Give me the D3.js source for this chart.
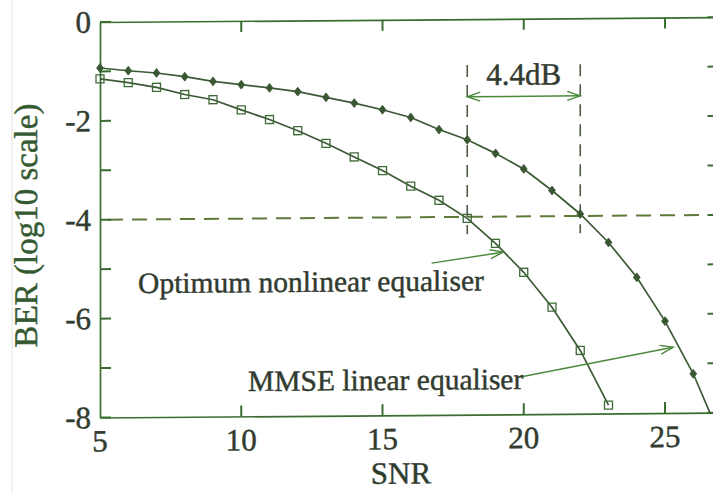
<!DOCTYPE html>
<html>
<head>
<meta charset="utf-8">
<script src="https://cdn.jsdelivr.net/npm/d3@7"></script>
<style>
  html, body { margin: 0; padding: 0; background: #fff; }
  svg { display: block; }
  text { font-family: "Liberation Serif", "Times New Roman", serif; }
</style>
</head>
<body>
<svg id="chart" width="713" height="493"></svg>
<script>
// BER (log10) against SNR for the MMSE linear and the optimum nonlinear equaliser
const snrMMSE = [5, 6, 7, 8, 9, 10, 11, 12, 13, 14, 15, 16, 17, 18, 19, 20, 21, 22, 23, 24, 25, 26, 27];
const berMMSE = [-0.93, -0.99, -1.04, -1.12, -1.22, -1.29, -1.36, -1.44, -1.56, -1.68, -1.82, -1.98,
                 -2.23, -2.44, -2.72, -3.04, -3.48, -3.96, -4.54, -5.25, -6.14, -7.21, -8.55];

const snrOpt = [5, 6, 7, 8, 9, 10, 11, 12, 13, 14, 15, 16, 17, 18, 19, 20, 21, 22, 23];
const berOpt = [-1.15, -1.23, -1.33, -1.48, -1.59, -1.80, -2.00, -2.23, -2.49, -2.77, -3.05, -3.37,
                -3.66, -4.03, -4.54, -5.13, -5.84, -6.72, -7.83];

const xTicks = [5, 10, 15, 20, 25];
const yTicks = [0, -2, -4, -6, -8];
const yMinorTicks = [-1, -3, -5, -7];

// reference BER level and the two SNRs where each curve reaches it
const berTarget = -4;
const snrGapFrom = 18;
const snrGapTo = 22;
const gapLabel = "4.4dB";

const labelOpt = "Optimum nonlinear equaliser";
const labelMMSE = "MMSE linear equaliser";
const xTitle = "SNR";
const yTitle = "BER (log10 scale)";

const svg = d3.select("#chart");

const xScale = d3.scaleLinear().domain([5, 27]).range([100, 721.5]);
const yScale = d3.scaleLinear().domain([0, -8]).range([22, 417.5]);

const frameColor = "#3a6e30";
const curveColor = "#3d5a36";
const textColor = "#323b2f";
const dashColor = "#5d7a3a";
const arrowColor = "#4a8a3c";

// faint edge line at the far left
svg.append("line")
  .attr("x1", 12).attr("x2", 12).attr("y1", 0).attr("y2", 493)
  .attr("stroke", "#e2e2e2").attr("stroke-width", 1);

// the whole figure is slightly sheared upwards to the right
const g = svg.append("g")
  .attr("transform", "translate(100,0) skewY(-0.45) translate(-100,0)");

const defs = svg.append("defs");
defs.append("clipPath").attr("id", "plotClip")
  .append("rect")
  .attr("x", xScale(5)).attr("y", yScale(0))
  .attr("width", xScale(27) - xScale(5)).attr("height", yScale(-8) - yScale(0));

defs.append("marker")
  .attr("id", "openHead")
  .attr("viewBox", "-14 -6 16 12")
  .attr("refX", 0).attr("refY", 0)
  .attr("markerWidth", 16).attr("markerHeight", 12)
  .attr("markerUnits", "userSpaceOnUse")
  .attr("orient", "auto-start-reverse")
  .append("path")
  .attr("d", "M-13,-4.5 L0,0 L-13,4.5")
  .attr("fill", "none")
  .attr("stroke", arrowColor)
  .attr("stroke-width", 1.4);

// frame lines from the axis generators
function styleDomain(sel) {
  sel.select(".domain").attr("stroke", frameColor).attr("stroke-width", 1.7);
}
g.append("g").attr("transform", `translate(${xScale(5)},0)`)
  .call(d3.axisRight(yScale).tickValues([]).tickSizeOuter(0)).call(styleDomain);
g.append("g").attr("transform", `translate(${xScale(27)},0)`)
  .call(d3.axisLeft(yScale).tickValues([]).tickSizeOuter(0)).call(styleDomain);
g.append("g").attr("transform", `translate(0,${yScale(-8)})`)
  .call(d3.axisTop(xScale).tickValues([]).tickSizeOuter(0)).call(styleDomain);
g.append("g").attr("transform", `translate(0,${yScale(0)})`)
  .call(d3.axisBottom(xScale).tickValues([]).tickSizeOuter(0)).call(styleDomain);

// text is given a hairline outline in its own colour for a printed weight
function ink(sel, color) {
  sel.attr("fill", color)
    .attr("stroke", color)
    .attr("stroke-width", 0.45)
    .attr("paint-order", "stroke");
}

// tick labels
g.append("g").selectAll("text")
  .data(yTicks)
  .join("text")
  .attr("x", xScale(5) - 9)
  .attr("y", d => yScale(d))
  .attr("dy", "0.34em")
  .attr("text-anchor", "end")
  .attr("font-size", 31)
  .call(ink, textColor)
  .text(d => String(d));

g.append("g").selectAll("text")
  .data(xTicks)
  .join("text")
  .attr("x", d => xScale(d))
  .attr("y", yScale(-8) + 34)
  .attr("text-anchor", "middle")
  .attr("font-size", 31)
  .call(ink, textColor)
  .text(d => d);

// axis titles
g.append("text")
  .attr("transform", `translate(37,225) rotate(-90)`)
  .attr("text-anchor", "middle")
  .attr("font-size", 33)
  .call(ink, "#355a32")
  .text(yTitle);

g.append("text")
  .attr("x", 401).attr("y", 486)
  .attr("text-anchor", "middle")
  .attr("font-size", 31)
  .call(ink, "#2f3d2d")
  .text(xTitle);

// reference BER level and SNR markers
g.append("line")
  .attr("x1", xScale(5) + 8).attr("x2", xScale(27))
  .attr("y1", yScale(berTarget)).attr("y2", yScale(berTarget))
  .attr("stroke", dashColor).attr("stroke-width", 2)
  .attr("stroke-dasharray", "15,9");

g.append("g").selectAll("line")
  .data([snrGapFrom, snrGapTo])
  .join("line")
  .attr("x1", d => xScale(d)).attr("x2", d => xScale(d))
  .attr("y1", yScale(-0.93)).attr("y2", yScale(-4.35))
  .attr("stroke", "#4c5c40").attr("stroke-width", 1.6)
  .attr("stroke-dasharray", "12,8");

// double-headed gap arrow with its label
g.append("line")
  .attr("x1", xScale(snrGapFrom)).attr("x2", xScale(snrGapTo))
  .attr("y1", yScale(-1.57)).attr("y2", yScale(-1.57))
  .attr("stroke", arrowColor).attr("stroke-width", 1.5)
  .attr("marker-start", "url(#openHead)")
  .attr("marker-end", "url(#openHead)");

g.append("text")
  .attr("x", xScale((snrGapFrom + snrGapTo) / 2)).attr("y", yScale(-1.335))
  .attr("text-anchor", "middle")
  .attr("font-size", 31)
  .call(ink, textColor)
  .text(gapLabel);

// curves
const curve = d3.line().x(d => xScale(d[0])).y(d => yScale(d[1]));
const mmse = snrMMSE.map((s, i) => [s, berMMSE[i]]);
const opt = snrOpt.map((s, i) => [s, berOpt[i]]);

g.append("path")
  .datum(mmse)
  .attr("clip-path", "url(#plotClip)")
  .attr("d", curve)
  .attr("fill", "none")
  .attr("stroke", curveColor)
  .attr("stroke-width", 1.7);

g.append("path")
  .datum(opt)
  .attr("clip-path", "url(#plotClip)")
  .attr("d", curve)
  .attr("fill", "none")
  .attr("stroke", curveColor)
  .attr("stroke-width", 1.7);

// markers (only those inside the axis range)
const inRange = d => d[0] <= 26.9 && d[1] >= -8;

g.append("g").selectAll("path")
  .data(mmse.filter(inRange))
  .join("path")
  .attr("transform", d => `translate(${xScale(d[0])},${yScale(d[1])})`)
  .attr("d", "M0,-4.4 L3.4,0 L0,4.4 L-3.4,0 Z")
  .attr("fill", "#3a5733")
  .attr("stroke", "#3a5733")
  .attr("stroke-width", 0.9);

g.append("g").selectAll("rect")
  .data(opt.filter(inRange))
  .join("rect")
  .attr("x", d => xScale(d[0]) - 4)
  .attr("y", d => yScale(d[1]) - 4)
  .attr("width", 8).attr("height", 8)
  .attr("fill", "none")
  .attr("stroke", "#3f6a38")
  .attr("stroke-width", 1.3);

// curve annotations
g.append("text")
  .attr("x", xScale(6.35)).attr("y", yScale(-5.49))
  .attr("font-size", 29.5)
  .call(ink, textColor)
  .text(labelOpt);

g.append("line")
  .attr("x1", xScale(16.74)).attr("y1", yScale(-4.93))
  .attr("x2", xScale(19.27)).attr("y2", yScale(-4.72))
  .attr("stroke", arrowColor).attr("stroke-width", 1.5)
  .attr("marker-end", "url(#openHead)");

g.append("text")
  .attr("x", xScale(10.24)).attr("y", yScale(-7.49))
  .attr("font-size", 29.5)
  .call(ink, textColor)
  .text(labelMMSE);

g.append("line")
  .attr("x1", xScale(19.97)).attr("y1", yScale(-7.24))
  .attr("x2", xScale(25.29)).attr("y2", yScale(-6.67))
  .attr("stroke", arrowColor).attr("stroke-width", 1.5)
  .attr("marker-end", "url(#openHead)");

// inward tick marks on all four sides, laid on top as small filled bars
const tickLen = 11;
const tickW = 2;
const yAll = yTicks.concat(yMinorTicks);
const xInner = xTicks.slice(1);
const ticks = g.append("g").attr("fill", frameColor);

ticks.selectAll("rect.tl")
  .data(yAll).join("rect").attr("class", "tl")
  .attr("x", xScale(5)).attr("y", d => yScale(d) - tickW / 2)
  .attr("width", tickLen).attr("height", tickW);
ticks.selectAll("rect.tr")
  .data(yAll).join("rect").attr("class", "tr")
  .attr("x", xScale(27) - 14).attr("y", d => yScale(d) - tickW / 2)
  .attr("width", 14).attr("height", tickW);
ticks.selectAll("rect.tb")
  .data(xInner).join("rect").attr("class", "tb")
  .attr("x", d => xScale(d) - tickW / 2).attr("y", yScale(-8) - tickLen)
  .attr("width", tickW).attr("height", tickLen);
ticks.selectAll("rect.tt")
  .data(xInner).join("rect").attr("class", "tt")
  .attr("x", d => xScale(d) - tickW / 2).attr("y", yScale(0))
  .attr("width", tickW).attr("height", tickLen);
</script>
</body>
</html>
